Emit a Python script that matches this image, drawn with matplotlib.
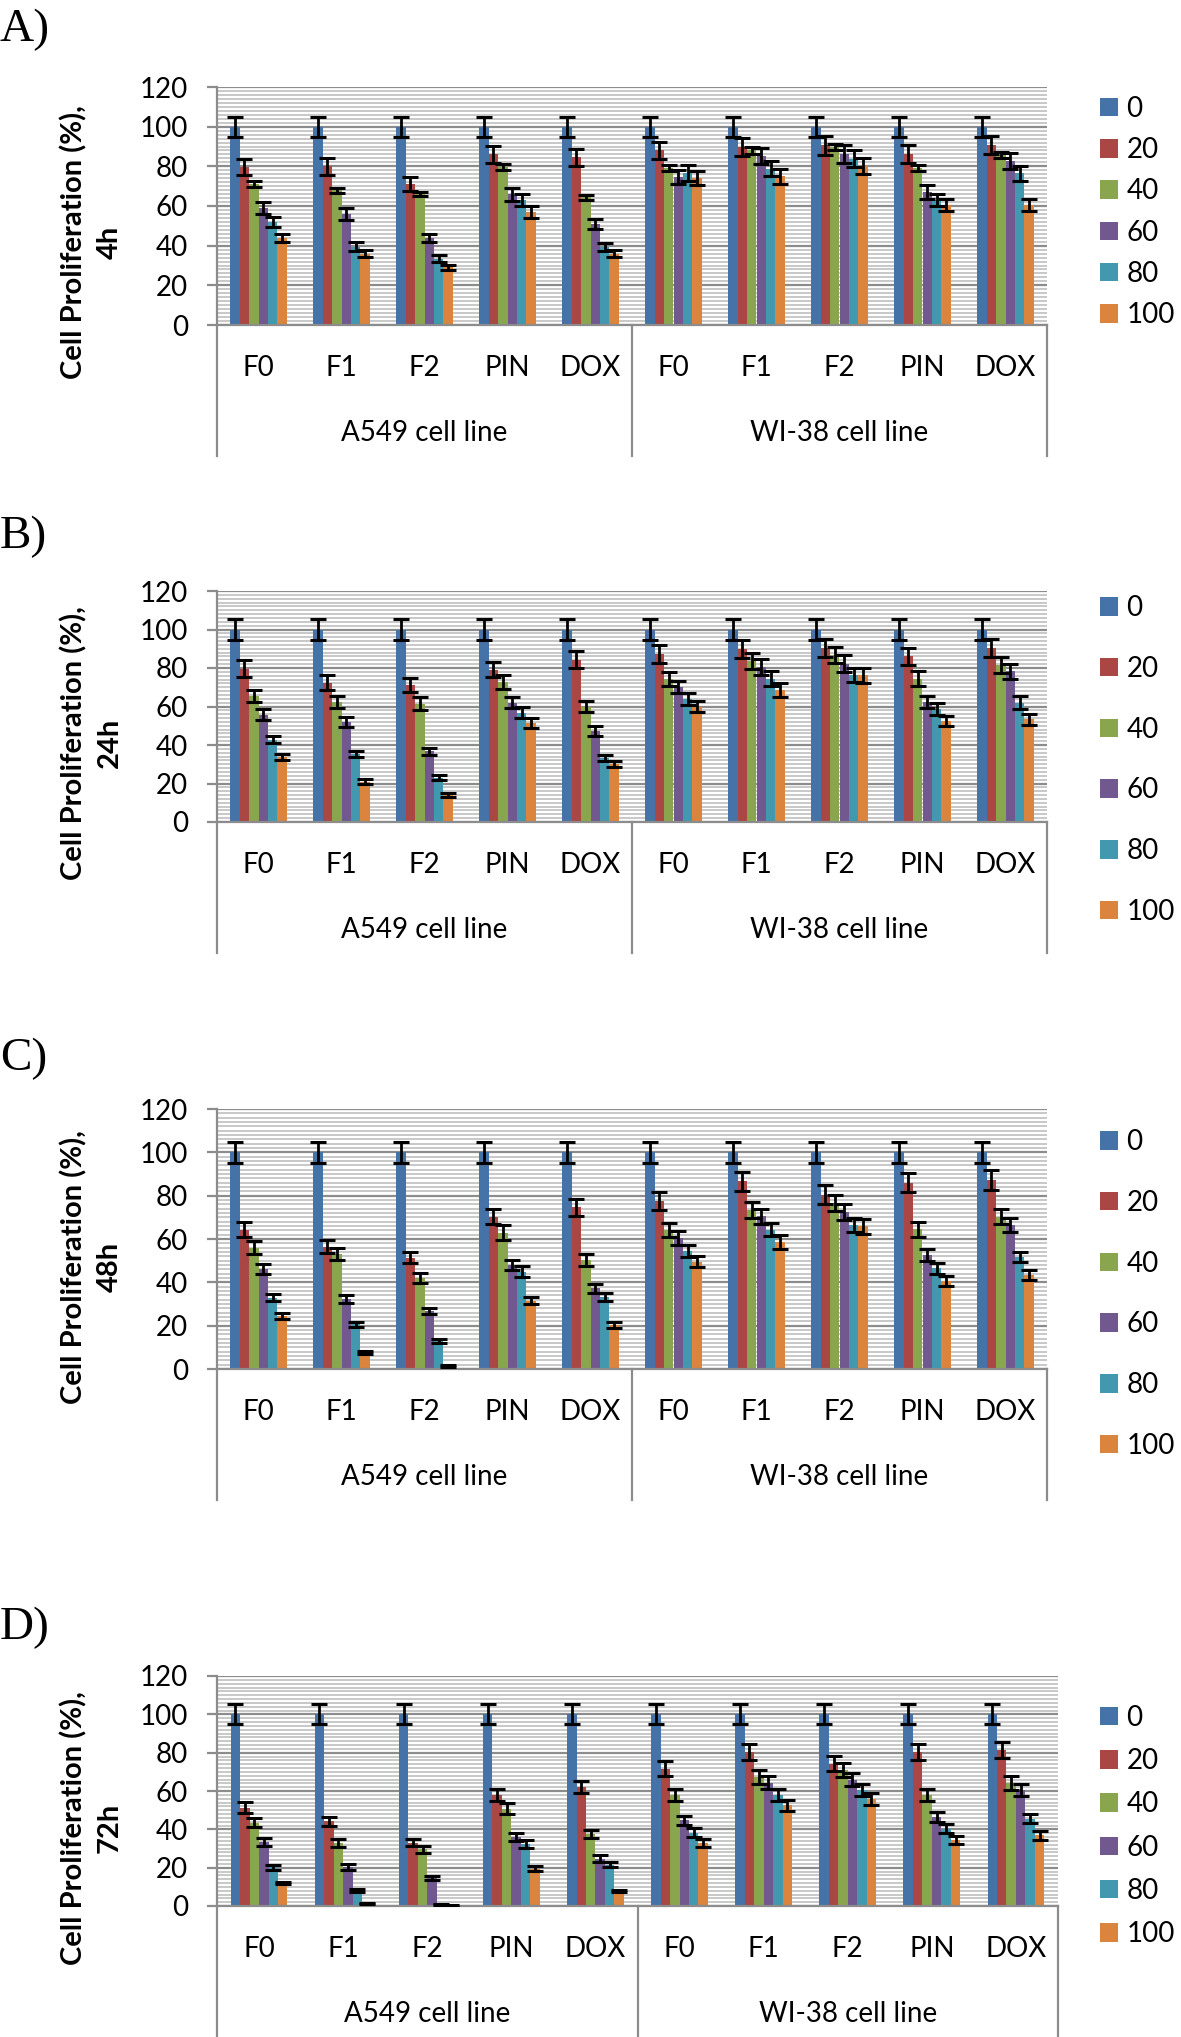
import numpy as np
import matplotlib
matplotlib.use("Agg")
import matplotlib.pyplot as plt
from matplotlib.transforms import blended_transform_factory

W, H = 1181, 2037
plt.rcParams["font.family"] = ["Lato", "DejaVu Sans"]

CONCENTRATIONS = ["0", "20", "40", "60", "80", "100"]
DRUGS = ["F0", "F1", "F2", "PIN", "DOX"]
CELL_LINES = ["A549 cell line", "WI-38 cell line"]
COLORS = ["#4572A7", "#AA4643", "#89A54E", "#71588F", "#4198AF", "#DB843D"]

# rows: A549 F0..DOX, then WI-38 F0..DOX ; columns: concentration 0..100
PROLIF_4H = [
    [100, 79.5, 71, 59, 52, 44],
    [100, 80, 68, 56, 39.5, 36],
    [100, 71, 66, 44, 33.5, 29],
    [100, 86, 79.5, 66, 63, 57],
    [100, 84.5, 64.3, 51, 39.5, 36],
    [100, 88, 79, 74.7, 76.5, 74],
    [100, 89.8, 88, 85, 78.8, 75],
    [100, 90.7, 89.8, 86.4, 83.9, 80.2],
    [100, 86.4, 79, 67, 63.2, 60.7],
    [100, 90.7, 85.6, 82.7, 76.4, 60.7],
]
ERR_4H = [
    [5, 4, 1.5, 3, 2.5, 2],
    [5, 4.2, 1.3, 3, 2.2, 1.7],
    [5, 3.5, 1.2, 2, 1.7, 1.5],
    [5, 4.5, 1.5, 3.3, 3, 3],
    [5, 4.2, 1.2, 2.5, 2, 1.8],
    [5, 4.5, 1.5, 3.6, 4, 3.6],
    [5, 4.5, 1.7, 4, 3.8, 3.8],
    [5, 4.8, 1.5, 4.5, 4.4, 4],
    [5, 4.5, 1.5, 3.4, 3, 3],
    [5, 4.6, 1.5, 4, 3.8, 3],
]

PROLIF_24H = [
    [100, 79.7, 65.5, 55.8, 42.8, 33.8],
    [100, 72.4, 62.4, 52, 35.2, 21],
    [100, 71, 61.5, 36.7, 23, 14.2],
    [100, 79, 72.8, 62, 56.7, 51.5],
    [100, 84.4, 60, 47.3, 33.3, 30.3],
    [100, 87.5, 74.2, 70.2, 64, 59.8],
    [100, 89.8, 83.5, 80.6, 74.5, 68.5],
    [100, 90.5, 86.7, 82.3, 76.3, 76.3],
    [100, 86, 74.5, 62.4, 58.6, 52.5],
    [100, 90.5, 81.5, 78.3, 62, 53.4],
]
ERR_24H = [
    [5.2, 4.2, 3.3, 2.8, 2, 1.6],
    [5.2, 3.9, 3.1, 2.8, 1.6, 1.2],
    [5.2, 3.6, 3.2, 1.8, 1.2, 1.0],
    [5.2, 3.9, 3.7, 3, 2.8, 2.7],
    [5.2, 4.2, 3, 2.4, 1.6, 1.6],
    [5.2, 4.7, 3.7, 3.2, 3.1, 2.9],
    [5.2, 4.5, 4.1, 4, 3.7, 3.6],
    [5.2, 4.6, 4.2, 4.3, 3.8, 3.9],
    [5.2, 4.3, 3.8, 3.2, 3.1, 2.8],
    [5.2, 4.8, 4.2, 3.8, 3.3, 2.9],
]

PROLIF_48H = [
    [100, 64.2, 56, 46.2, 33, 24.5],
    [100, 56.5, 53, 32.3, 20.6, 7.5],
    [100, 51.4, 41.8, 26.7, 13, 1.5],
    [100, 70.3, 63, 48, 45, 31.5],
    [100, 74.6, 50.3, 37.2, 33.4, 20.3],
    [100, 77.6, 64.3, 60.4, 54.4, 49.6],
    [100, 86.6, 73.5, 70.4, 64.3, 58.6],
    [100, 80.5, 76.6, 72.5, 66.3, 65.8],
    [100, 86, 64.4, 52.7, 46.5, 40.5],
    [100, 87.4, 70.2, 66.3, 51.7, 43.5],
]
ERR_48H = [
    [5, 3.5, 2.9, 2.4, 1.8, 1.4],
    [5, 2.9, 2.7, 1.7, 1.3, 0.7],
    [5, 2.7, 2.3, 1.5, 0.8, 0.5],
    [5, 3.5, 3.3, 2.5, 2.4, 1.7],
    [5, 3.8, 2.6, 1.9, 1.8, 1.2],
    [5, 4.1, 3.3, 3.1, 2.8, 2.5],
    [5, 4.5, 3.7, 3.5, 3.1, 3.1],
    [5, 4.2, 3.9, 3.7, 3.2, 3.3],
    [5, 4.4, 3.3, 2.7, 2.5, 2.2],
    [5, 4.6, 3.5, 3.2, 2.5, 2.2],
]

PROLIF_72H = [
    [100, 51.3, 43.5, 33.4, 20.3, 12],
    [100, 44.2, 32.9, 20.3, 8.2, 1.2],
    [100, 32.9, 29.6, 14.6, 0.7, 0.3],
    [100, 58, 50.8, 36, 32.5, 19.5],
    [100, 62, 37.4, 24.7, 21.6, 7.8],
    [100, 71.6, 58, 44.7, 38.3, 33],
    [100, 80.3, 67.3, 64.3, 58, 52.5],
    [100, 74.3, 70.8, 66, 60.3, 56],
    [100, 80.3, 58, 46.4, 40.3, 34.3],
    [100, 81.2, 64.2, 60.3, 45.6, 36.9],
]
ERR_72H = [
    [5.2, 2.8, 2.4, 1.9, 1.3, 0.7],
    [5.2, 2.3, 1.9, 1.4, 0.7, 0.4],
    [5.2, 1.8, 1.7, 1.0, 0.4, 0.3],
    [5.2, 3.2, 2.8, 2.0, 2.1, 1.2],
    [5.2, 3.3, 2.0, 1.7, 1.4, 0.7],
    [5.2, 3.8, 3.2, 2.5, 2.2, 2.1],
    [5.2, 4.2, 3.7, 3.5, 3, 2.8],
    [5.2, 4, 3.6, 3.5, 3.1, 3.1],
    [5.2, 4.1, 3.2, 2.6, 2.3, 2.1],
    [5.2, 4.2, 3.5, 3.1, 2.3, 2.3],
]

AXIS_GRAY = "#8c8c8c"
MINOR_GRAY = "#c4c4c4"
FS = 20


def draw_panel(fig, letter, hours, values, errors, box, legend_y, legend_space, letter_y, ylabel_y):
    left, right, top, bottom = box
    ax = fig.add_axes([left / W, 1 - bottom / H, (right - left) / W, (bottom - top) / H])
    height_px = bottom - top

    vals = np.array(values, dtype=float)
    errs = np.array(errors, dtype=float)
    n_groups, n_series = vals.shape
    x = np.arange(n_groups)
    width = 0.675 / n_series

    handles = []
    for j in range(n_series):
        offs = (j - (n_series - 1) / 2) * width
        bars = ax.bar(x + offs, vals[:, j], width, color=COLORS[j], zorder=2)
        ax.errorbar(x + offs, vals[:, j], yerr=errs[:, j], fmt="none", ecolor="black",
                    elinewidth=2, capsize=5.5, capthick=2.2, zorder=3)
        handles.append(bars)

    ax.set_xlim(-0.5, n_groups - 0.5)
    ax.set_ylim(0, 120)
    ax.set_yticks(np.arange(0, 121, 20))
    ax.set_yticks(np.arange(0, 121, 2), minor=True)
    ax.set_axisbelow(True)
    ax.grid(which="minor", axis="y", color=MINOR_GRAY, lw=1.3)
    ax.grid(which="major", axis="y", color=AXIS_GRAY, lw=1.6)
    ax.tick_params(axis="y", which="major", length=7, width=1.6, color=AXIS_GRAY,
                   pad=14, labelsize=FS)
    ax.tick_params(axis="y", which="minor", length=0)
    ax.tick_params(axis="x", length=0, labelbottom=False)
    for side in ["top", "right"]:
        ax.spines[side].set_visible(False)
    for side in ["left", "bottom"]:
        ax.spines[side].set_color(AXIS_GRAY)
        ax.spines[side].set_linewidth(1.6)

    # two-level category axis below the plot
    trans = blended_transform_factory(ax.transData, ax.transAxes)
    names = DRUGS * len(CELL_LINES)
    for i, name in enumerate(names):
        ax.annotate(name, xy=(i, 0), xycoords=trans, xytext=(0, -43 * 0.72),
                    textcoords="offset points", ha="center", va="center", fontsize=FS)
    per_line = len(DRUGS)
    for k, cl in enumerate(CELL_LINES):
        center = k * per_line + (per_line - 1) / 2
        ax.annotate(cl, xy=(center, 0), xycoords=trans, xytext=(0, -108 * 0.72),
                    textcoords="offset points", ha="center", va="center", fontsize=FS)
    for k in range(len(CELL_LINES) + 1):
        xs = k * per_line - 0.5
        ax.plot([xs, xs], [0, -131 / height_px], transform=trans, clip_on=False,
                color=AXIS_GRAY, lw=1.6)

    ax.legend(handles, CONCENTRATIONS, loc="center left",
              bbox_to_anchor=(1100 / W, 1 - legend_y / H), bbox_transform=fig.transFigure,
              frameon=False, fontsize=FS, handlelength=0.65, handleheight=0.65,
              handletextpad=0.3, labelspacing=legend_space, borderpad=0, borderaxespad=0)

    fig.text(74 / W, 1 - ylabel_y / H, "Cell Proliferation (%),", rotation=90,
             ha="center", va="center", fontsize=21, fontweight="bold")
    fig.text(110 / W, 1 - ylabel_y / H, hours, rotation=90,
             ha="center", va="center", fontsize=21, fontweight="bold")
    fig.text(0, 1 - letter_y / H, letter, family="Liberation Serif", fontsize=34,
             ha="left", va="center")
    return ax


fig = plt.figure(figsize=(W / 100, H / 100), dpi=100)

draw_panel(fig, "A)", "4h", PROLIF_4H, ERR_4H, (217, 1047, 87, 325), 212, 0.55, 30, 242)
draw_panel(fig, "B)", "24h", PROLIF_24H, ERR_24H, (217, 1047, 591, 822), 760, 1.25, 537, 743)
draw_panel(fig, "C)", "48h", PROLIF_48H, ERR_48H, (217, 1047, 1109, 1369), 1294, 1.25, 1059, 1267)
draw_panel(fig, "D)", "72h", PROLIF_72H, ERR_72H, (217, 1058, 1676, 1906), 1826, 0.62, 1628, 1828)

fig.savefig("out.png", dpi=100)
